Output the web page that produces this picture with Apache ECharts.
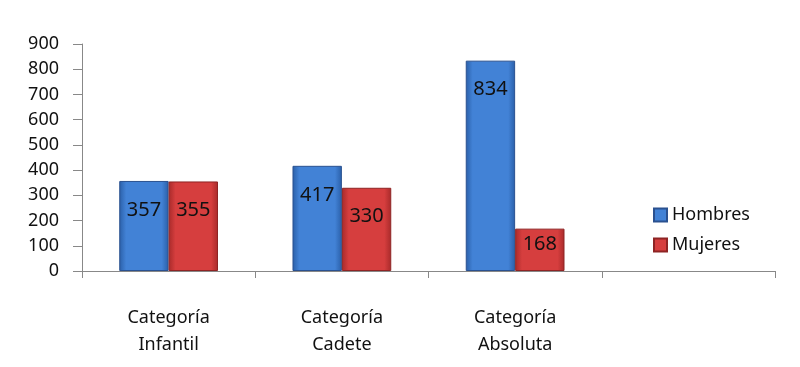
<!DOCTYPE html>
<html><head><meta charset="utf-8">
<script src="https://cdn.jsdelivr.net/npm/echarts@6/dist/echarts.min.js"></script>
<style>html,body{margin:0;padding:0;background:#fff}#c{width:800px;height:367px}</style>
</head><body><div id="c"></div>
<script>
const categories = ['Categoría\nInfantil', 'Categoría\nCadete', 'Categoría\nAbsoluta', ''];
const hombres = [357, 417, 834, null];
const mujeres = [355, 330, 168, null];
const yTicks = [0, 100, 200, 300, 400, 500, 600, 700, 800, 900];

const font = 'Noto Sans';
function grad(edge, mid) {
  return new echarts.graphic.LinearGradient(0, 0, 1, 0, [
    {offset: 0, color: edge}, {offset: 0.14, color: mid}, {offset: 0.86, color: mid}, {offset: 1, color: edge}
  ]);
}
const lbl = {show: true, position: 'insideTop', distance: 19, fontFamily: font, fontSize: 20, color: '#111'};
const chart = echarts.init(document.getElementById('c'));
chart.setOption({
  animation: false,
  backgroundColor: '#fff',
  grid: {left: 82, right: 25, top: 44, bottom: 96},
  legend: {
    orient: 'vertical', left: 648, top: 201, itemWidth: 13, itemHeight: 13, itemGap: 12,
    textStyle: {fontFamily: font, fontSize: 18, color: '#111'},
    data: [{name: 'Hombres', icon: 'rect'}, {name: 'Mujeres', icon: 'rect'}]
  },
  xAxis: {
    type: 'category', data: categories,
    axisLine: {lineStyle: {color: '#888'}},
    axisTick: {show: true, length: 7, lineStyle: {color: '#888'}},
    axisLabel: {fontFamily: font, fontSize: 18, color: '#111', lineHeight: 27, margin: 33}
  },
  yAxis: {
    type: 'value', min: 0, max: 900, interval: 100,
    axisLine: {show: true, lineStyle: {color: '#888'}},
    axisTick: {show: true, inside: false, length: 9, lineStyle: {color: '#888'}},
    splitLine: {show: false},
    axisLabel: {fontFamily: font, fontSize: 18, color: '#111', margin: 23,
      formatter: v => yTicks.includes(v) ? String(v) : ''}
  },
  series: [
    {name: 'Hombres', type: 'bar', data: hombres, barGap: '0%', barCategoryGap: '43%',
      itemStyle: {color: grad('#2a5fa8', '#4282d6'), borderColor: '#2a5190', borderWidth: 1},
      label: lbl},
    {name: 'Mujeres', type: 'bar',
      data: mujeres.map((v, i) => i === 2 ? {value: v, label: {distance: 6}} : v),
      itemStyle: {color: grad('#a82a2a', '#d63e3e'), borderColor: '#8e2424', borderWidth: 1},
      label: lbl}
  ]
});
</script></body></html>
